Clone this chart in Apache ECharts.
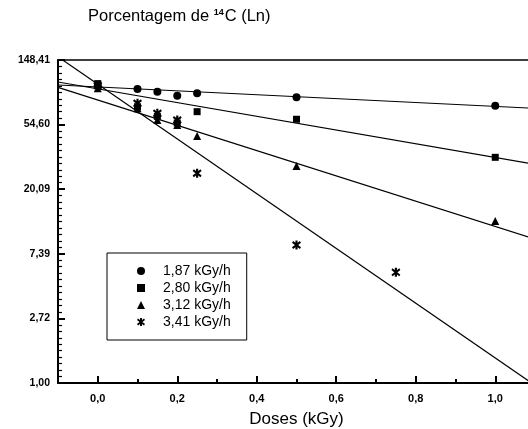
<!DOCTYPE html>
<html>
<head>
<meta charset="utf-8">
<script src="https://cdn.jsdelivr.net/npm/echarts@6/dist/echarts.min.js"></script>
<style>
html, body { margin: 0; padding: 0; background: #fff; }
#chart { width: 528px; height: 429px; }
</style>
</head>
<body>
<div id="chart"></div>
<script>
var names = ['1,87 kGy/h', '2,80 kGy/h', '3,12 kGy/h', '3,41 kGy/h']
var circles = [[0, 100], [0.1, 94.7], [0.15, 90.8], [0.2, 85.4], [0.25, 88.7], [0.5, 83.3], [1.0, 73.2]]
var squares = [[0, 103], [0.1, 72], [0.15, 62], [0.2, 56], [0.25, 66.7], [0.5, 59.3], [1.0, 32.9]]
var triangles = [[0, 96], [0.1, 70.3], [0.15, 58.6], [0.2, 54.3], [0.25, 45.8], [0.5, 28.8], [1.0, 12.3]]
var stars = [[0, 100], [0.1, 75.9], [0.15, 65], [0.2, 58.6], [0.25, 25.7], [0.5, 8.47], [0.75, 5.55]]
// fitted lines, end points at the axis limits
var fitCircles = [[-0.1, 100.8], [1.1, 70.2]]
var fitSquares = [[-0.1, 105.6], [1.1, 29.5]]
var fitTriangles = [[-0.1, 97.2], [1.1, 9.28]]
var fitStars = [[-0.1, 156], [1.1, 0.966]]
// ticks
var xMajorTicks = [0, 0.2, 0.4, 0.6, 0.8, 1.0]
var xMinorTicks = [-0.1, 0.1, 0.3, 0.5, 0.7, 0.9, 1.1]

var asterisk = 'path://M3.8,0L6.2,0L6.2,10L3.8,10Z' +
  'M0,2.4L1.3,0.5L10,7.6L8.7,9.5Z' +
  'M10,2.4L1.3,9.5L0,7.6L8.7,0.5Z'
var symbols = ['circle', 'rect', 'triangle', asterisk]
var sizes = [8, 7, 8, 9]

var fmt = function (v) {
  return v.toFixed(2).replace('.', ',')
}

var lineSeries = [fitCircles, fitSquares, fitTriangles, fitStars].map(function (d, i) {
  return {
    name: 'fit' + i,
    type: 'line',
    data: d,
    symbol: 'none',
    clip: true,
    silent: true,
    lineStyle: { color: '#000', width: 1.2 },
    z: 2
  }
})
var pointSeries = [circles, squares, triangles, stars].map(function (d, i) {
  return {
    name: names[i],
    type: 'scatter',
    data: d,
    symbol: symbols[i],
    symbolSize: sizes[i],
    itemStyle: { color: '#000', opacity: 1 },
    z: 3 + i
  }
})

var chart = echarts.init(document.getElementById('chart'))
chart.setOption({
  animation: false,
  backgroundColor: '#fff',
  title: {
    text: 'Porcentagem de {sup|14}C (Ln)',
    left: 83,
    top: 3,
    textStyle: {
      fontFamily: 'Liberation Sans',
      fontSize: 16.5,
      fontWeight: 'normal',
      color: '#000',
      rich: {
        sup: { fontSize: 9, fontFamily: 'Liberation Sans', color: '#000', fontWeight: 'bold', padding: [0, 1, 8, 0] }
      }
    }
  },
  legend: {
    orient: 'vertical',
    left: 107,
    top: 253,
    padding: [11, 16, 11, 30],
    itemGap: 3,
    itemWidth: 8,
    itemHeight: 8,
    borderColor: '#000',
    borderWidth: 1,
    textStyle: { fontFamily: 'Liberation Sans', fontSize: 14, color: '#000', padding: [0, 0, 0, 13] },
    data: names.map(function (n, i) {
      return { name: n, icon: symbols[i], itemStyle: { color: '#000' } }
    })
  },
  grid: {
    left: 58,
    top: 60,
    width: 477,
    height: 323,
    containLabel: false,
    outerBoundsMode: 'none'
  },
  xAxis: [{
    type: 'value',
    min: -0.1,
    max: 1.1,
    axisLine: { onZero: false, lineStyle: { color: '#000', width: 2 } },
    axisTick: { show: true, inside: true, length: 7, customValues: xMajorTicks, lineStyle: { color: '#000', width: 2 } },
    axisLabel: {
      customValues: xMajorTicks,
      margin: 10,
      color: '#000',
      fontFamily: 'Liberation Sans',
      fontSize: 11,
      fontWeight: 'bold',
      formatter: function (v) { return v.toFixed(1).replace('.', ',') }
    },
    splitLine: { show: false },
    name: 'Doses (kGy)',
    nameLocation: 'middle',
    nameGap: 28,
    nameTextStyle: { fontFamily: 'Liberation Sans', fontSize: 17, color: '#000' }
  }, {
    type: 'value',
    position: 'bottom',
    min: -0.1,
    max: 1.1,
    axisLine: { show: false, onZero: false },
    axisTick: { show: true, inside: true, length: 4, customValues: xMinorTicks, lineStyle: { color: '#000', width: 2 } },
    axisLabel: { show: false },
    splitLine: { show: false }
  }, {
    // top frame line
    type: 'value',
    position: 'top',
    min: -0.1,
    max: 1.1,
    axisLine: { show: true, onZero: false, lineStyle: { color: '#000', width: 1.5 } },
    axisTick: { show: false },
    axisLabel: { show: false },
    splitLine: { show: false }
  }],
  yAxis: [{
    type: 'log',
    logBase: Math.E,
    min: 1,
    max: Math.exp(5),
    axisLine: { show: true, onZero: false, lineStyle: { color: '#000', width: 2 } },
    axisTick: { show: false },
    axisLabel: {
      margin: 8,
      color: '#000',
      fontFamily: 'Liberation Sans',
      fontSize: 10.5,
      fontWeight: 'bold',
      formatter: fmt
    },
    splitLine: { show: false }
  }, {
    // ln scale, only used to draw the tick marks
    type: 'value',
    position: 'left',
    min: 0,
    max: 5,
    interval: 1,
    axisLine: { show: false, onZero: false },
    axisTick: { show: true, inside: true, length: 7, lineStyle: { color: '#000', width: 2 } },
    minorTick: { show: true, splitNumber: 10, length: 4, lineStyle: { color: '#000', width: 1.2 } },
    axisLabel: { show: false },
    splitLine: { show: false }
  }],
  series: lineSeries.concat(pointSeries)
})
</script>
</body>
</html>
